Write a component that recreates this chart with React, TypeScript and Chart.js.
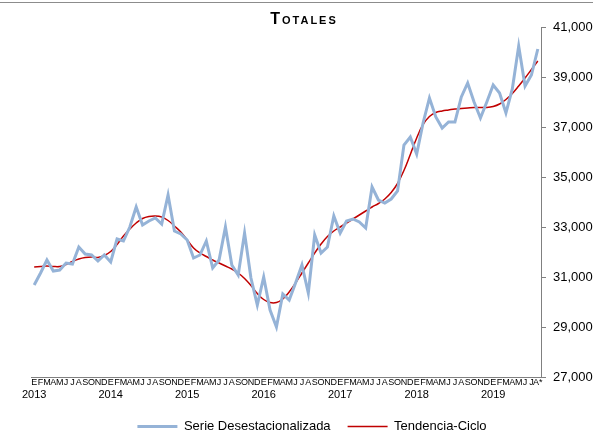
import { useEffect, useRef } from 'react';
import { Chart, registerables } from 'chart.js';

Chart.register(...registerables);

const years = ['2013', '2014', '2015', '2016', '2017', '2018', '2019'];
const monthLetters = ['E', 'F', 'M', 'A', 'M', 'J', 'J', 'A', 'S', 'O', 'N', 'D'];
const monthsInLastYear = 8;

const categories: string[] = [];
years.forEach((y, yi) => {
  const last = yi === years.length - 1;
  const n = last ? monthsInLastYear : 12;
  for (let m = 0; m < n; m++) {
    categories.push(monthLetters[m] + (last && m === n - 1 ? '*' : ''));
  }
});

const serieDesestacionalizada = [
  30680, 31160, 31680, 31240, 31280, 31560, 31520, 32200, 31920, 31880, 31640, 31880,
  31600, 32520, 32440, 33000, 33800, 33080, 33240, 33360, 33120, 34280, 32840, 32720,
  32480, 31760, 31880, 32440, 31360, 31680, 33000, 31480, 31080, 32760, 30960, 29880,
  31000, 29680, 29000, 30320, 30080, 30760, 31480, 30360, 32680, 31960, 32200, 33440,
  32760, 33240, 33320, 33200, 32960, 34600, 34080, 33960, 34120, 34440, 36280, 36600,
  35920, 37160, 38160, 37400, 36960, 37200, 37200, 38200, 38760, 38000, 37360, 38000,
  38680, 38360, 37560, 38520, 40240, 38640, 39080, 40120,
];

const tendenciaCiclo = [
  31400, 31420, 31440, 31420, 31420, 31500, 31620, 31720, 31780, 31800, 31780, 31860,
  32020, 32300, 32640, 32920, 33160, 33340, 33420, 33440, 33400, 33260, 33040, 32800,
  32480, 32160, 31960, 31820, 31680, 31560, 31440, 31320, 31160, 30940, 30660, 30340,
  30100, 29980, 29980, 30120, 30400, 30760, 31160, 31560, 31960, 32320, 32620, 32840,
  33000, 33160, 33320, 33480, 33640, 33800, 33940, 34120, 34380, 34740, 35260, 35900,
  36560, 37100, 37420, 37580, 37640, 37680, 37720, 37740, 37760, 37780, 37780, 37780,
  37820, 37920, 38100, 38340, 38640, 38960, 39300, 39640,
];

const yMin = 27000;
const yMax = 41000;
const yStep = 2000;

const FONT = '"Liberation Sans", Arial, sans-serif';

export default function App() {
  const canvasRef = useRef<HTMLCanvasElement | null>(null);

  useEffect(() => {
    if (!canvasRef.current) return;
    const chart = new Chart(canvasRef.current, {
      type: 'line',
      data: {
        labels: categories,
        datasets: [
          {
            label: 'Serie Desestacionalizada',
            data: serieDesestacionalizada,
            borderColor: '#95B3D7',
            backgroundColor: '#95B3D7',
            borderWidth: 3,
            pointRadius: 0,
            tension: 0,
            xAxisID: 'x',
            yAxisID: 'y',
          },
          {
            label: 'Tendencia-Ciclo',
            data: tendenciaCiclo,
            borderColor: '#C00000',
            backgroundColor: '#C00000',
            borderWidth: 1.5,
            pointRadius: 0,
            tension: 0.4,
            xAxisID: 'x',
            yAxisID: 'y',
          },
        ],
      },
      options: {
        responsive: false,
        animation: false,
        events: [],
        layout: { padding: { left: 31, top: 27, right: 0, bottom: 0 } },
        plugins: {
          title: { display: false },
          tooltip: { enabled: false },
          legend: {
            position: 'bottom',
            labels: {
              usePointStyle: true,
              pointStyle: 'line',
              pointStyleWidth: 40,
              padding: 17,
              color: '#000',
              font: { family: FONT, size: 13 },
            },
          },
        },
        scales: {
          x: {
            type: 'category',
            position: 'bottom',
            weight: 0,
            offset: true,
            grid: { display: false, drawTicks: false },
            border: { display: true, color: '#808080', width: 1 },
            ticks: {
              autoSkip: false,
              maxRotation: 0,
              minRotation: 0,
              padding: 0,
              color: '#000',
              font: { family: FONT, size: 9 },
            },
          },
          x2: {
            type: 'category',
            position: 'bottom',
            weight: 1,
            offset: true,
            labels: categories,
            grid: { display: false, drawTicks: false },
            border: { display: false },
            ticks: {
              autoSkip: false,
              maxRotation: 0,
              minRotation: 0,
              padding: 1,
              color: '#000',
              font: { family: FONT, size: 11 },
              callback: (_v: any, i: number) => (i % 12 === 0 ? years[i / 12] : ''),
            },
          },
          y: {
            position: 'right',
            min: yMin,
            max: yMax,
            afterFit: (scale: any) => {
              scale.width = 52;
            },
            grid: {
              drawOnChartArea: false,
              drawTicks: true,
              tickLength: 5,
              color: '#808080',
            },
            border: { display: true, color: '#808080', width: 1 },
            ticks: {
              stepSize: yStep,
              padding: 7,
              color: '#000',
              font: { family: FONT, size: 13 },
              callback: (v: any) => Number(v).toLocaleString('en-US'),
            },
          },
        },
      },
    });
    return () => chart.destroy();
  }, []);

  return (
    <div style={{ position: 'absolute', left: 0, top: 0, width: 593, height: 443, background: '#fff' }}>
      <canvas ref={canvasRef} width={593} height={443} style={{ position: 'absolute', left: 0, top: 0 }} />
      <div
        style={{
          position: 'absolute',
          left: 0,
          top: 2,
          width: 593,
          height: 0,
          borderTop: '1px solid #8c8c8c',
          pointerEvents: 'none',
        }}
      />
      <div
        style={{
          position: 'absolute',
          left: 0,
          top: 10,
          width: 608,
          textAlign: 'center',
          fontFamily: FONT,
          fontWeight: 'bold',
          fontSize: 16,
          lineHeight: '18px',
          fontVariant: 'small-caps',
          letterSpacing: '2px',
          color: '#000',
          pointerEvents: 'none',
        }}
      >
        Totales
      </div>
    </div>
  );
}
